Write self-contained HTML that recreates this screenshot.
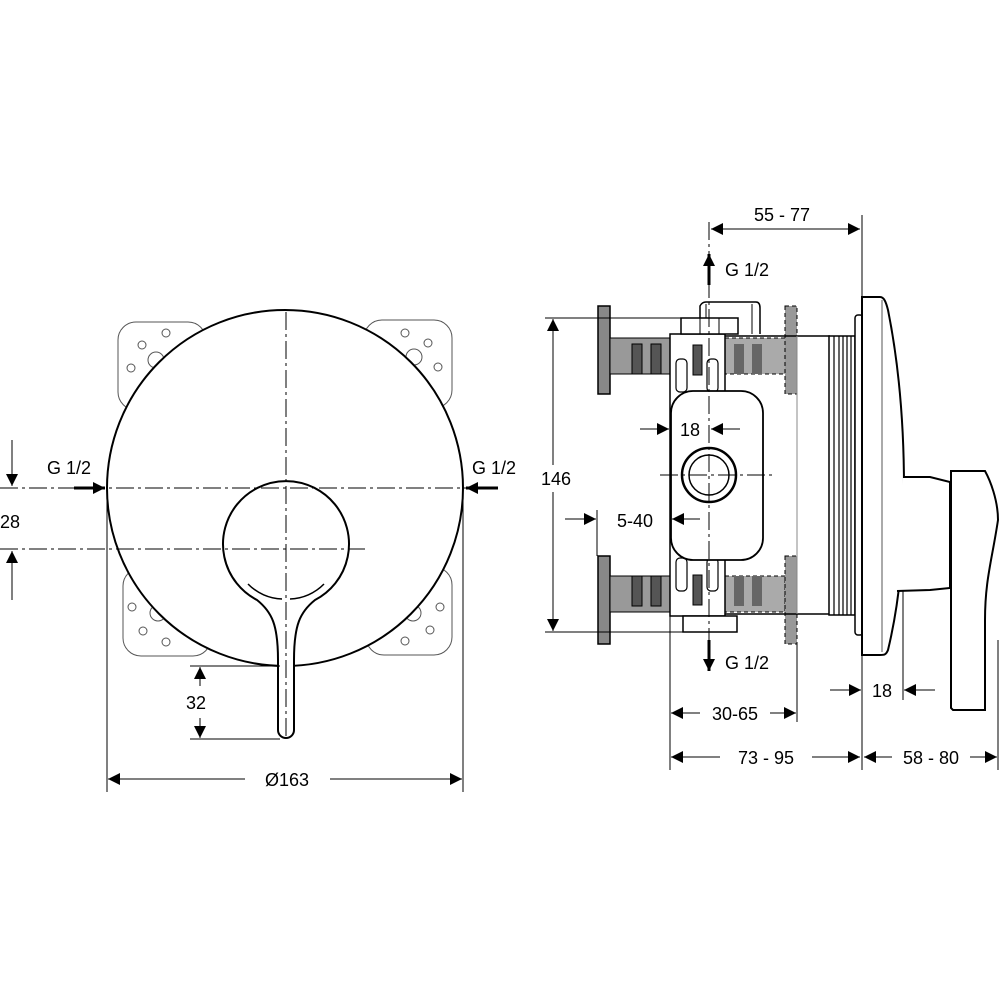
<!DOCTYPE html>
<html><head><meta charset="utf-8"><style>
html,body{margin:0;padding:0;background:#fff}
svg{display:block}
text{font-family:"Liberation Sans",sans-serif;font-size:18px;fill:#000}
</style></head><body>
<svg width="1000" height="1000" viewBox="0 0 1000 1000" xmlns="http://www.w3.org/2000/svg">
<defs>
<marker id="a" viewBox="0 0 10 10" refX="10" refY="5" markerWidth="16" markerHeight="12" markerUnits="userSpaceOnUse" orient="auto"><path d="M0,0L10,5L0,10z" fill="#000"/></marker>
</defs>
<g fill="none" stroke="#000">
<!-- mounting plates -->
<g stroke="#555" stroke-width="1">
<rect x="118" y="322" width="88" height="88" rx="18"/>
<rect x="364" y="320" width="88" height="88" rx="18"/>
<rect x="123" y="568" width="88" height="88" rx="18"/>
<rect x="366" y="567" width="86" height="88" rx="18"/>
<circle cx="166" cy="333" r="4"/><circle cx="142" cy="345" r="4"/><circle cx="131" cy="368" r="4"/><circle cx="156" cy="360" r="8"/>
<circle cx="405" cy="333" r="4"/><circle cx="428" cy="343" r="4"/><circle cx="438" cy="367" r="4"/><circle cx="414" cy="357" r="8"/>
<circle cx="132" cy="607" r="4"/><circle cx="143" cy="631" r="4"/><circle cx="166" cy="642" r="4"/><circle cx="158" cy="613" r="8"/>
<circle cx="440" cy="607" r="4"/><circle cx="430" cy="630" r="4"/><circle cx="405" cy="641" r="4"/><circle cx="413" cy="613" r="8"/>
</g>
<circle cx="285" cy="488" r="178" fill="#fff" stroke-width="2"/>
<!-- lever -->
<path d="M257,600 A63,63 0 1 1 315,600 C300,612 294,625 294,660 L294,730 A8,8 0 0 1 278,730 L278,660 C278,625 272,612 257,600 Z" fill="#fff" stroke-width="2"/>
<path d="M248,584 A50,50 0 0 0 282,599 M290,599 A50,50 0 0 0 324,584" stroke-width="1.5"/>
<!-- centerlines -->
<g stroke-width="1" stroke-dasharray="18,4,3,4">
<line x1="0" y1="488" x2="470" y2="488"/>
<line x1="0" y1="549" x2="365" y2="549"/>
<line x1="286" y1="312" x2="286" y2="740"/>
</g>
<!-- dims left -->
<g stroke-width="1">
<line x1="12" y1="440" x2="12" y2="486" marker-end="url(#a)"/>
<line x1="12" y1="600" x2="12" y2="551" marker-end="url(#a)"/>
<line x1="107" y1="490" x2="107" y2="792"/>
<line x1="463" y1="490" x2="463" y2="792"/>
<line x1="190" y1="666" x2="280" y2="666"/>
<line x1="190" y1="739" x2="280" y2="739"/>
<line x1="200" y1="686" x2="200" y2="667" marker-end="url(#a)"/>
<line x1="200" y1="718" x2="200" y2="738" marker-end="url(#a)"/>
<line x1="245" y1="779" x2="108" y2="779" marker-end="url(#a)"/>
<line x1="330" y1="779" x2="462" y2="779" marker-end="url(#a)"/>
</g>
<line x1="74" y1="488" x2="105" y2="488" stroke-width="3" marker-end="url(#a)"/>
<line x1="498" y1="488" x2="466" y2="488" stroke-width="3" marker-end="url(#a)"/>
<!-- RIGHT VIEW -->
<rect x="598" y="306" width="12" height="88" fill="#888" stroke-width="1.5"/>
<rect x="598" y="556" width="12" height="88" fill="#888" stroke-width="1.5"/>
<rect x="610" y="338" width="60" height="36" fill="#999" stroke-width="1"/>
<rect x="610" y="576" width="60" height="36" fill="#999" stroke-width="1"/>
<g fill="#555" stroke-width="1">
<rect x="632" y="344" width="10" height="30"/><rect x="651" y="344" width="10" height="30"/>
<rect x="632" y="576" width="10" height="30"/><rect x="651" y="576" width="10" height="30"/>
</g>
<g stroke-dasharray="4,3" stroke-width="1">
<rect x="725" y="338" width="60" height="36" fill="#aaa"/>
<rect x="725" y="576" width="60" height="36" fill="#aaa"/>
<rect x="785" y="306" width="12" height="88" fill="#999"/>
<rect x="785" y="556" width="12" height="88" fill="#999"/>
</g>
<g fill="#666" stroke="none">
<rect x="734" y="344" width="10" height="30"/><rect x="752" y="344" width="10" height="30"/>
<rect x="734" y="576" width="10" height="30"/><rect x="752" y="576" width="10" height="30"/>
</g>
<line x1="725" y1="336" x2="830" y2="336" stroke-width="1.5"/>
<line x1="725" y1="614" x2="830" y2="614" stroke-width="1.5"/>
<line x1="797" y1="336" x2="797" y2="614" stroke-width="1" stroke="#888"/>
<rect x="829" y="336" width="26" height="279" fill="#fff" stroke-width="1.5"/>
<g stroke-width="1.2"><line x1="834" y1="336" x2="834" y2="615"/><line x1="839" y1="336" x2="839" y2="615"/><line x1="843" y1="336" x2="843" y2="615"/><line x1="847" y1="336" x2="847" y2="615"/><line x1="851" y1="336" x2="851" y2="615"/></g>
<rect x="855" y="315" width="8" height="320" rx="3" fill="#fff" stroke-width="1.5"/>
<path d="M862,297 L880,297 C884,297 886,302 888,310 C900,370 904,430 904,488 C904,550 900,600 888,650 C886,655 884,655 880,655 L862,655 Z" fill="#fff" stroke-width="2"/>
<line x1="882" y1="300" x2="882" y2="652" stroke-width="1" stroke="#555"/>
<path d="M903,477 L930,477 L950,482 L950,588 L930,590 L897,591" fill="#fff" stroke-width="2"/>
<path d="M951,471 L985,471 C990,480 998,500 998,520 C992,560 985,580 985,620 L985,710 L953,710 L951,708 Z" fill="#fff" stroke-width="2"/>
<rect x="670" y="334" width="55" height="282" fill="#fff" stroke-width="1.5"/>
<g fill="#fff" stroke-width="1.2">
<rect x="676" y="359" width="11" height="33" rx="4"/><rect x="707" y="359" width="11" height="33" rx="4"/>
<rect x="676" y="558" width="11" height="33" rx="4"/><rect x="707" y="558" width="11" height="33" rx="4"/>
</g>
<rect x="693" y="345" width="9" height="30" fill="#555" stroke-width="1"/>
<rect x="693" y="575" width="9" height="30" fill="#555" stroke-width="1"/>
<rect x="671" y="391" width="92" height="169" rx="22" fill="#fff" stroke-width="1.8"/>
<circle cx="709" cy="475" r="27" stroke-width="2.5" fill="#fff"/>
<circle cx="709" cy="475" r="20" stroke-width="1.5"/>
<path d="M700,318 L700,306 Q702,302 706,302 L756,302 Q760,302 760,308 L760,334" fill="#fff" stroke-width="1.5"/>
<line x1="706" y1="304" x2="706" y2="318" stroke-width="1"/><line x1="752" y1="304" x2="752" y2="334" stroke-width="1"/>
<rect x="681" y="318" width="57" height="16" fill="#fff" stroke-width="1.5"/>
<line x1="700" y1="318" x2="700" y2="334" stroke-width="1"/><line x1="719" y1="318" x2="719" y2="334" stroke-width="1"/>
<rect x="683" y="616" width="54" height="16" fill="#fff" stroke-width="1.5"/>
<g stroke-width="1" stroke-dasharray="18,4,3,4">
<line x1="709" y1="222" x2="709" y2="640"/>
<line x1="660" y1="475" x2="775" y2="475"/>
</g>
<g stroke-width="1">
<line x1="862" y1="215" x2="862" y2="770"/>
<line x1="711" y1="229" x2="860" y2="229" marker-end="url(#a)"/>
<line x1="860" y1="229" x2="711" y2="229" marker-end="url(#a)"/>
<line x1="545" y1="318" x2="700" y2="318"/>
<line x1="545" y1="632" x2="690" y2="632"/>
<line x1="553" y1="465" x2="553" y2="319" marker-end="url(#a)"/>
<line x1="553" y1="492" x2="553" y2="631" marker-end="url(#a)"/>
<line x1="640" y1="429" x2="669" y2="429" marker-end="url(#a)"/>
<line x1="740" y1="429" x2="711" y2="429" marker-end="url(#a)"/>
<line x1="565" y1="519" x2="596" y2="519" marker-end="url(#a)"/>
<line x1="700" y1="519" x2="672" y2="519" marker-end="url(#a)"/>
<line x1="597" y1="510" x2="597" y2="556"/>
<line x1="670" y1="616" x2="670" y2="770"/>
<line x1="797" y1="644" x2="797" y2="722"/>
<line x1="998" y1="640" x2="998" y2="770"/>
<line x1="903" y1="591" x2="903" y2="700"/>
<line x1="700" y1="713" x2="671" y2="713" marker-end="url(#a)"/>
<line x1="770" y1="713" x2="796" y2="713" marker-end="url(#a)"/>
<line x1="720" y1="757" x2="671" y2="757" marker-end="url(#a)"/>
<line x1="812" y1="757" x2="860" y2="757" marker-end="url(#a)"/>
<line x1="892" y1="757" x2="864" y2="757" marker-end="url(#a)"/>
<line x1="970" y1="757" x2="997" y2="757" marker-end="url(#a)"/>
<line x1="830" y1="690" x2="861" y2="690" marker-end="url(#a)"/>
<line x1="935" y1="690" x2="904" y2="690" marker-end="url(#a)"/>
</g>
<line x1="709" y1="285" x2="709" y2="254" stroke-width="3" marker-end="url(#a)"/>
<line x1="709" y1="640" x2="709" y2="671" stroke-width="3" marker-end="url(#a)"/>
</g>
<text x="47" y="474">G 1/2</text>
<text x="472" y="474">G 1/2</text>
<text x="0" y="528">28</text>
<text x="186" y="709">32</text>
<text x="287" y="786" text-anchor="middle">Ø163</text>
<text x="754" y="221">55 - 77</text>
<text x="725" y="276">G 1/2</text>
<text x="725" y="669">G 1/2</text>
<text x="556" y="485" text-anchor="middle">146</text>
<text x="690" y="436" text-anchor="middle">18</text>
<text x="635" y="527" text-anchor="middle">5-40</text>
<text x="735" y="720" text-anchor="middle">30-65</text>
<text x="766" y="764" text-anchor="middle">73 - 95</text>
<text x="931" y="764" text-anchor="middle">58 - 80</text>
<text x="882" y="697" text-anchor="middle">18</text>
</svg>
</body></html>
